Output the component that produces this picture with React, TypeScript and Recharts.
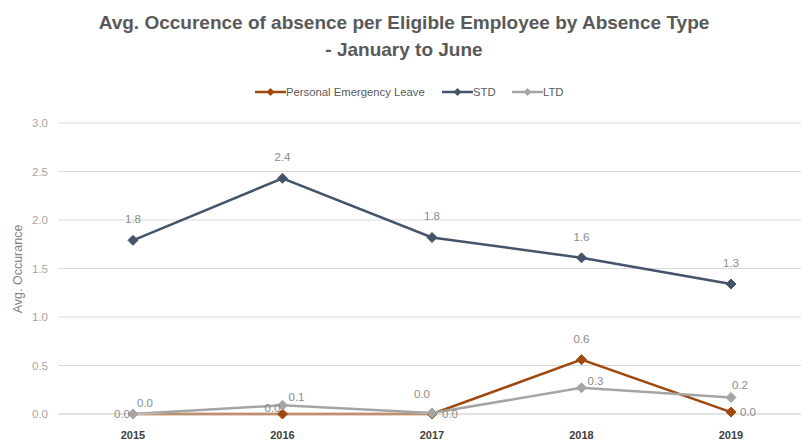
import React from 'react';
import { LineChart, Line, XAxis, YAxis, CartesianGrid, LabelList } from 'recharts';

const years = ['2015', '2016', '2017', '2018', '2019'];
const personalEmergencyLeave = [0.0, 0.0, 0.0, 0.56, 0.02];
const std = [1.79, 2.43, 1.82, 1.61, 1.34];
const ltd = [0.0, 0.09, 0.01, 0.27, 0.17];
const yTicks = [0, 0.5, 1, 1.5, 2, 2.5, 3];

const data = years.map((year, i) => ({
  year,
  pel: personalEmergencyLeave[i],
  std: std[i],
  ltd: ltd[i]
}));

const COLORS = { pel: '#9E480E', std: '#44546A', ltd: '#A5A5A5' };

// label nudges per point, [dx, dy] from the marker
const pelOffsets = [[-11, 0], [-10, -6], [18, 0], [0, -21], [17, 0]];
const stdOffsets = [[0, -21], [0, -21], [0, -21], [0, -21], [0, -21]];
const ltdOffsets = [[12, -11], [14, -8], [-10, -19], [14, -7], [9, -13]];

const Diamond = (color: string) => (props: any) => {
  const { cx, cy, index } = props;
  if (cx == null || cy == null) return null;
  const r = 5;
  return (
    <polygon
      key={`d-${index}`}
      points={`${cx},${cy - r} ${cx + r},${cy} ${cx},${cy + r} ${cx - r},${cy}`}
      fill={color}
      stroke={color}
    />
  );
};

const makeLabel = (offsets: number[][]) => (props: any) => {
  const { x, y, value, index } = props;
  const [dx, dy] = offsets[index] || [0, -20];
  return (
    <text
      x={x + dx}
      y={y + dy}
      textAnchor="middle"
      dominantBaseline="central"
      fill="#8c8c8c"
      style={{ fontSize: 11.5, fontFamily: 'Liberation Sans, Arial, sans-serif' }}
    >
      {Number(value).toFixed(1)}
    </text>
  );
};

const LegendItem = ({ color, text, left }: { color: string; text: string; left: number }) => (
  <div style={{ position: 'absolute', left, top: 0, display: 'flex', alignItems: 'center', whiteSpace: 'nowrap' }}>
    <svg width={31} height={10}>
      <line x1={0} y1={5} x2={31} y2={5} stroke={color} strokeWidth={2.5} />
      <polygon points="15.5,1 19.5,5 15.5,9 11.5,5" fill={color} />
    </svg>
    <span>{text}</span>
  </div>
);

export default function App() {
  return (
    <div style={{ position: 'relative', width: 801, height: 440, background: '#fff', fontFamily: 'Liberation Sans, Arial, sans-serif' }}>
      <style>{'body{margin:0}'}</style>
      <div
        style={{
          position: 'absolute',
          top: 9,
          left: 0,
          width: 808,
          textAlign: 'center',
          fontSize: 19,
          fontWeight: 'bold',
          color: '#595959',
          lineHeight: '27px'
        }}
      >
        Avg. Occurence of absence per Eligible Employee by Absence Type
        <br />- January to June
      </div>
      <div style={{ position: 'absolute', top: 86, left: 0, width: 801, height: 14, fontSize: 11.3, color: '#595959' }}>
        <LegendItem color={COLORS.pel} text="Personal Emergency Leave" left={255} />
        <LegendItem color={COLORS.std} text="STD" left={442} />
        <LegendItem color={COLORS.ltd} text="LTD" left={512} />
      </div>
      <div
        style={{
          position: 'absolute',
          left: 18,
          top: 269,
          transform: 'translate(-50%, -50%) rotate(-90deg)',
          fontSize: 12.5,
          color: '#7f7f7f',
          whiteSpace: 'nowrap'
        }}
      >
        Avg. Occurance
      </div>
      <LineChart
        width={801}
        height={440}
        data={data}
        margin={{ top: 123, right: 0, bottom: 6, left: 0 }}
        style={{ position: 'absolute', top: 0, left: 0 }}
      >
        <CartesianGrid vertical={false} stroke="#d9d9d9" />
        <XAxis
          dataKey="year"
          padding={{ left: 75, right: 70 }}
          axisLine={{ stroke: '#d9d9d9' }}
          tickLine={false}
          tickMargin={11}
          height={20}
          tick={{ fontSize: 11, fill: '#404040', fontWeight: 'bold' }}
        />
        <YAxis
          width={58}
          domain={[0, 3]}
          ticks={yTicks}
          axisLine={false}
          tickLine={false}
          tickSize={0}
          tickMargin={10}
          tickFormatter={(v: number) => v.toFixed(1)}
          tick={{ fontSize: 11.5, fill: '#a6a6a6' }}
        />
        <Line
          dataKey="pel"
          stroke={COLORS.pel}
          strokeWidth={2.5}
          dot={Diamond(COLORS.pel)}
          isAnimationActive={false}
        >
          <LabelList dataKey="pel" content={makeLabel(pelOffsets)} />
        </Line>
        <Line
          dataKey="std"
          stroke={COLORS.std}
          strokeWidth={2.5}
          dot={Diamond(COLORS.std)}
          isAnimationActive={false}
        >
          <LabelList dataKey="std" content={makeLabel(stdOffsets)} />
        </Line>
        <Line
          dataKey="ltd"
          stroke={COLORS.ltd}
          strokeWidth={2.5}
          dot={Diamond(COLORS.ltd)}
          isAnimationActive={false}
        >
          <LabelList dataKey="ltd" content={makeLabel(ltdOffsets)} />
        </Line>
      </LineChart>
    </div>
  );
}
